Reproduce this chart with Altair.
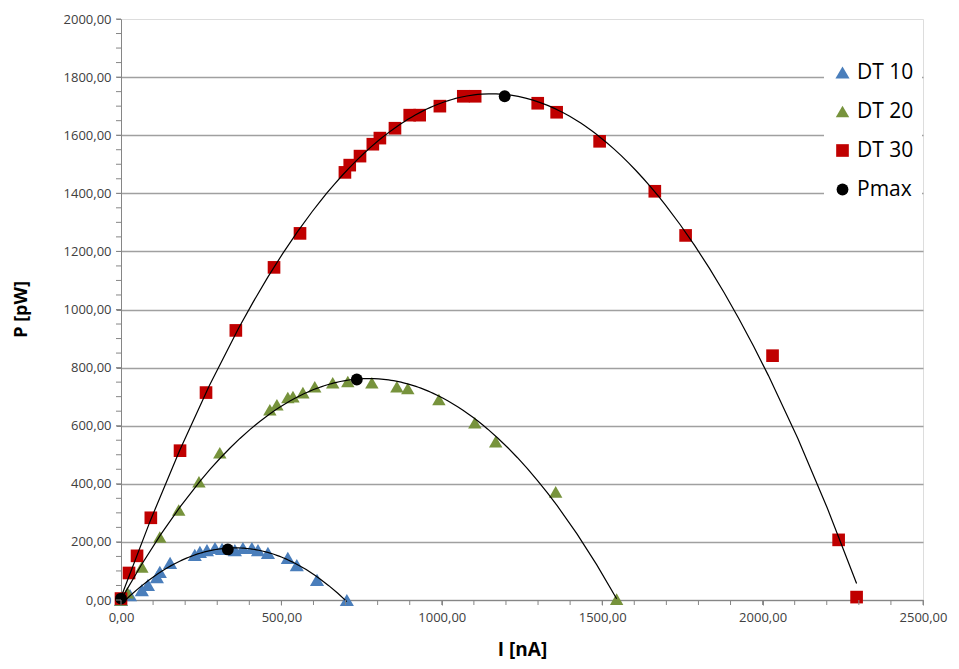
import altair as alt
import pandas as pd

# ---- data ----
dt10_I = [0, 28, 65, 84, 112, 121, 153, 230, 246, 268, 293, 315, 355, 380, 408, 427, 458, 520, 548, 611, 704]
dt10_P = [0, 17, 34, 52, 79, 97, 128, 155, 166, 172, 179, 176, 172, 179, 179, 172, 162, 145, 120, 69, 0]

dt20_I = [0, 20, 65, 121, 180, 243, 308, 464, 486, 520, 536, 567, 604, 660, 707, 782, 860, 894, 991, 1103, 1168, 1355, 1545]
dt20_P = [0, 25, 114, 217, 310, 407, 507, 655, 672, 697, 700, 714, 734, 748, 752, 748, 734, 728, 690, 610, 545, 372, 3]

dt30_I = [0, 25, 50, 93, 184, 265, 358, 477, 558, 698, 713, 745, 785, 807, 854, 900, 931, 994,
          1067, 1104, 1299, 1358, 1492, 1664, 1760, 2031, 2237, 2293]
dt30_P = [5, 93, 152, 283, 514, 714, 928, 1145, 1262, 1472, 1497, 1528, 1569, 1590, 1624, 1669, 1669, 1700,
          1734, 1734, 1710, 1679, 1579, 1407, 1255, 841, 207, 10]

pmax_I = [0, 333, 735, 1196]
pmax_P = [5, 174, 759, 1734]

series_names = ["DT 10", "DT 20", "DT 30", "Pmax"]
series_colors = ["#4A7EBB", "#77933C", "#C00000", "#000000"]
series_shapes = ["triangle-up", "triangle-up", "square", "circle"]
series_sizes = [200, 140, 175, 160]

x_major = [0, 500, 1000, 1500, 2000, 2500]
x_minor = list(range(0, 2501, 100))
y_major = list(range(0, 2001, 200))
y_minor = list(range(0, 2001, 50))

rows = []
for name, xs, ys in [("DT 10", dt10_I, dt10_P), ("DT 20", dt20_I, dt20_P),
                     ("DT 30", dt30_I, dt30_P), ("Pmax", pmax_I, pmax_P)]:
    for a, b in zip(xs, ys):
        rows.append({"series": name, "I": a, "P": b})
df = pd.DataFrame(rows)

FONT = "Open Sans"
AXIS_GRAY = "#868686"
fmt = "replace(format(datum.value, '.2f'), '.', ',')"

x_enc = alt.X("I:Q",
              scale=alt.Scale(domain=[0, 2500], nice=False, zero=False),
              axis=alt.Axis(values=x_major, grid=False, title="I [nA]",
                            labelExpr=fmt, labelOverlap=False, labelFlush=False,
                            tickSize=5, tickColor=AXIS_GRAY, domainColor=AXIS_GRAY,
                            labelFont=FONT, labelFontSize=13, labelColor="#404040", labelPadding=6,
                            titleFont=FONT, titleFontSize=19, titleFontWeight="bold", titleColor="#000000",
                            titleY=49, titleBaseline="middle"))
y_enc = alt.Y("P:Q",
              scale=alt.Scale(domain=[0, 2000], nice=False),
              axis=alt.Axis(values=y_major, title="P [pW]",
                            labelExpr=fmt, labelOverlap=False, labelFlush=False,
                            grid=True, gridColor="#A0A0A0", gridWidth=1.3,
                            gridOpacity={"condition": {"test": "datum.value < 2000", "value": 1}, "value": 0},
                            tickSize=5, tickColor=AXIS_GRAY, domainColor=AXIS_GRAY,
                            labelFont=FONT, labelFontSize=13, labelColor="#404040", labelPadding=5,
                            titleFont=FONT, titleFontSize=18, titleFontWeight="bold", titleColor="#000000",
                            titleX=-100, titleY=290, titleAngle=-90, titleAlign="center", titleBaseline="middle"))

base = alt.Chart(df)

points = base.transform_filter("datum.series !== 'Pmax'").mark_point(filled=True, opacity=1, strokeWidth=0).encode(
    x=x_enc, y=y_enc,
    color=alt.Color("series:N", scale=alt.Scale(domain=series_names, range=series_colors),
                    legend=alt.Legend(title=None, orient="none", legendX=703, legendY=35,
                                      fillColor="white", padding=8, rowPadding=17,
                                      labelFont=FONT, labelFontSize=21, labelColor="#000000",
                                      symbolSize=130, symbolStrokeWidth=0, labelOffset=4)),
    shape=alt.Shape("series:N", scale=alt.Scale(domain=series_names, range=series_shapes)),
    size=alt.Size("series:N", scale=alt.Scale(domain=series_names, range=series_sizes), legend=None),
)

lines = base.transform_filter("datum.series !== 'Pmax'").transform_regression(
    "I", "P", method="poly", order=2, groupby=["series"]
).mark_line(color="black", strokeWidth=1.2).encode(
    x="I:Q", y="P:Q", detail="series:N"
)

pmax = base.transform_filter("datum.series === 'Pmax'").mark_point(filled=True, opacity=1, strokeWidth=0).encode(
    x="I:Q", y="P:Q",
    color=alt.Color("series:N"),
    shape=alt.Shape("series:N"),
    size=alt.Size("series:N", legend=None),
)

x_minor_ticks = alt.Chart(pd.DataFrame({"I": x_minor})).mark_rule(color=AXIS_GRAY, strokeWidth=1).encode(
    x="I:Q", y=alt.value(581), y2=alt.value(586)
)
y_minor_ticks = alt.Chart(pd.DataFrame({"P": y_minor})).mark_rule(color=AXIS_GRAY, strokeWidth=1).encode(
    y="P:Q", x=alt.value(0), x2=alt.value(-5)
)

chart = alt.layer(points, lines, pmax, x_minor_ticks, y_minor_ticks).properties(
    width=802, height=581,
    autosize=alt.AutoSizeParams(type="none"),
    padding={"left": 113, "top": 11, "right": 25, "bottom": 66},
).configure_view(stroke=None).configure(background="white")

chart.save("out.html", embed_options={"renderer": "svg", "actions": False})
